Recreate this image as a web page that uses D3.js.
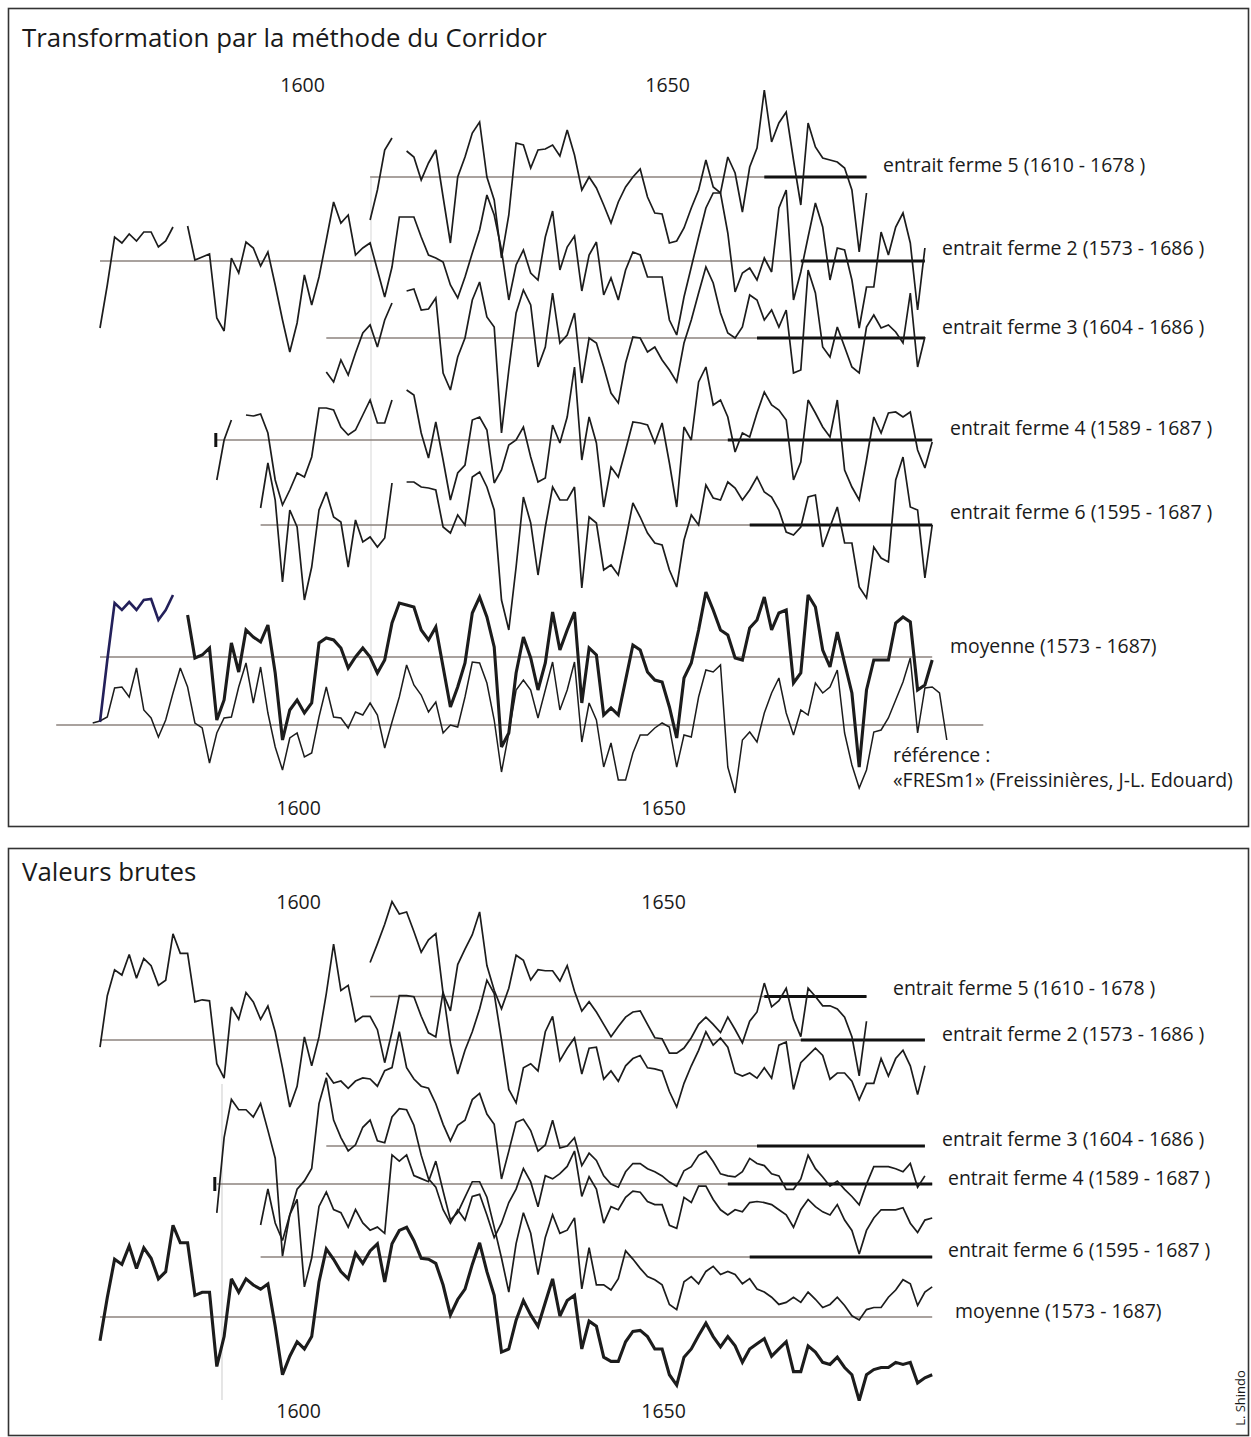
<!DOCTYPE html>
<html><head><meta charset="utf-8">
<script src="https://cdn.jsdelivr.net/npm/d3@7"></script>
<style>
body{margin:0;background:#fff;}
svg{display:block;}
text{font-family:"Open Sans",sans-serif;fill:#1a1a1a;}
</style></head><body>
<svg id="chart" width="1251" height="1437"></svg>
<script>
// ---------------- DATA (index deviations from each series' mean line) ----------------
const tickYears = [1600, 1650];

// Panel 1 : Transformation par la méthode du Corridor
const topEf5Start = 1610;
const topEf5 = [-43,-13,27,39,null,26,20,-3,14,27,-20,-66,0,20,44,55,0,-23,-81,-38,34,32,9,27,28,32,21,47,22,-13,0,-11,-28,-46,-25,-10,0,8,-20,-36,-37,-66,-64,-51,-31,-13,17,-10,-16,20,4,-35,10,29,87,35,54,65,17,-28,54,30,19,17,15,9,-13,-75,-16];
const topEf2Start = 1573;
const topEf2 = [-67,-24,24,18,27,20,29,29,14,20,34,null,35,1,4,7,-57,-70,3,-12,19,13,-5,9,-24,-59,-91,-62,-14,-44,-16,21,59,38,46,6,13,18,-9,-36,-6,44,44,44,24,6,3,-1,-24,-37,-16,8,31,66,46,11,-39,-4,11,-12,-19,24,50,-9,14,25,-30,6,19,-34,-17,-39,-9,9,6,-16,-16,-16,-59,-74,-36,-6,24,53,68,68,28,-31,-12,-7,-19,3,-11,53,71,-39,-11,24,58,34,-19,13,11,-19,-67,-26,-26,29,6,34,48,18,-49,13];
const topEf3Start = 1604;
const topEf3 = [-34,-44,-22,-37,-15,5,13,-9,18,35,null,47,49,28,29,40,-35,-52,-19,0,38,56,21,11,-95,-32,25,48,33,-29,-9,45,-5,3,25,-45,0,-5,-29,-55,-65,-25,1,0,-14,-9,-22,-32,-44,-5,18,45,71,55,25,5,0,11,43,38,18,28,11,28,-35,-32,68,45,-9,-19,11,-9,-29,-35,11,23,10,13,6,-5,45,-29,1];
const topEf4Start = 1589;
const topEf4 = [-40,0,20,null,25,24,26,7,-40,-65,-50,-33,-37,-17,32,32,30,13,5,10,25,40,17,17,40,null,50,45,7,-18,18,-20,-60,-33,-25,20,23,10,-43,-30,-5,0,13,-17,-42,-38,15,-3,23,73,-20,23,-3,-67,-27,-37,-10,18,17,15,-3,17,-23,-67,13,0,58,73,35,40,23,-12,7,3,27,48,35,30,20,-40,-22,40,27,13,3,40,-30,-47,-60,-20,23,7,27,28,23,28,-10,-28,-2];
const topEf6Start = 1595;
const topEf6 = [17,62,25,-57,15,-2,-75,-42,15,33,8,3,-42,5,-17,-12,-22,-13,42,null,43,43,38,37,35,-2,-8,10,0,48,53,38,15,-75,-105,-42,28,2,-50,-2,38,25,25,38,-63,8,2,-45,-40,-50,-15,22,8,-8,-18,-20,-45,-62,-15,10,0,40,27,25,43,37,25,35,48,33,28,15,-7,-10,-2,28,30,-22,-2,18,-18,-18,-62,-73,-22,-33,-37,45,68,18,15,-53,0];
const topMoyStart = 1573;
const topMoy = [-65,-3,54,47,55,47,57,58,37,47,62,null,42,-1,2,9,-63,-43,14,-15,27,20,15,32,-16,-83,-53,-43,-56,-46,14,19,17,9,-11,0,9,0,-16,-3,34,54,52,50,27,17,30,-10,-50,-30,-6,44,60,40,10,-90,-76,-16,20,-1,-33,-6,45,7,27,45,-46,9,2,-58,-51,-58,-23,12,7,-15,-23,-25,-50,-81,-21,-6,27,65,47,27,22,-1,-3,29,37,60,27,44,47,-26,-16,62,50,7,-10,25,-6,-36,-110,-33,-3,-3,-3,34,40,35,-33,-28,-3];
const topRefStart = 1572;
const topRef = [2,4,8,37,38,28,57,15,7,-12,5,32,57,38,2,-3,-38,-8,7,8,38,62,22,58,12,-22,-45,-13,-8,-32,-28,8,38,8,7,-3,13,10,22,10,-23,3,28,60,40,30,13,23,-8,0,-2,28,63,62,42,5,-47,-8,35,45,35,7,35,63,15,35,63,-17,22,5,-42,-18,-55,-55,-28,-10,-10,-3,2,-2,-42,-10,-12,28,55,53,60,-42,-68,-15,-7,-17,12,32,47,12,-10,15,10,42,32,38,55,-8,-40,-63,-45,-7,-5,7,25,43,67,-8,37,38,32,-15];

// Panel 2 : Valeurs brutes
const botEf5Start = 1610;
const botEf5 = [33,51,70,92,80,82,63,43,55,61,3,-14,31,46,60,82,30,6,-12,8,40,35,16,26,25,25,15,30,5,-14,-5,-15,-27,-39,-29,-20,-15,-14,-27,-40,-41,-55,-55,-50,-40,-27,-20,-27,-35,-20,-32,-45,-24,-15,13,-10,-4,8,-22,-39,8,0,-9,-9,-12,-20,-39,-77,-24];
const botEf2Start = 1573;
const botEf2 = [-7,43,68,63,83,60,79,72,53,58,103,84,84,37,39,38,-23,-37,32,20,46,37,20,33,8,-27,-65,-45,3,-25,3,45,93,48,53,18,23,23,10,-22,8,43,43,42,23,7,3,47,-3,-33,-10,8,30,58,45,0,-48,-61,-27,-23,-30,8,23,-20,-8,2,-33,-8,-7,-38,-30,-40,-25,-18,-15,-27,-28,-30,-50,-65,-42,-25,-10,8,-5,2,-7,-32,-35,-32,-37,-27,-37,-5,-2,-48,-22,-15,-8,-15,-38,-32,-32,-40,-58,-42,-42,-18,-35,-18,-10,-25,-53,-25];
const botEf3Start = 1604;
const botEf3 = [71,61,63,56,63,66,65,58,73,76,111,76,65,58,56,41,21,5,20,25,45,51,31,21,-32,-5,23,26,15,-5,1,25,-2,0,8,-19,-7,-14,-29,-37,-40,-25,-17,-17,-22,-25,-29,-35,-39,-24,-20,-9,-5,-15,-27,-29,-30,-25,-12,-17,-19,-27,-29,-42,-42,-32,-9,-22,-30,-39,-34,-42,-49,-57,-37,-20,-20,-20,-22,-25,-17,-40,-29];
const botEf4Start = 1589;
const botEf4 = [-28,45,82,72,72,65,78,52,25,-70,-30,-5,3,15,78,103,62,45,32,38,55,62,42,40,65,73,72,57,28,5,-3,-25,-38,-25,-35,-12,-10,-30,-52,-38,-18,-5,15,2,-22,8,5,10,17,32,-12,7,-5,-38,-22,-25,-13,-7,-8,-17,-20,-20,-40,-43,-13,-18,-2,-2,-15,-25,-30,-25,-27,-18,-17,-18,-20,-25,-30,-42,-25,-15,-22,-27,-30,-20,-35,-45,-68,-45,-33,-25,-25,-25,-23,-38,-47,-35,-33];
const botEf6Start = 1595;
const botEf6 = [31,66,33,16,41,56,-29,-1,49,63,46,43,29,46,33,26,29,23,99,93,99,79,76,73,93,64,36,43,58,73,73,58,29,-1,-34,13,43,23,-17,19,41,23,26,38,-31,9,-27,-27,-32,-21,6,-2,-11,-19,-22,-27,-46,-51,-24,-19,-26,-14,-9,-17,-14,-17,-26,-21,-31,-34,-39,-46,-44,-39,-44,-34,-41,-49,-46,-39,-47,-57,-61,-51,-49,-49,-39,-32,-22,-26,-47,-34,-29];
const botMoyStart = 1573;
const botMoy = [-23,19,56,51,69,47,67,57,37,44,89,72,72,21,24,24,-48,-19,37,24,37,31,27,32,-9,-56,-38,-24,-31,-19,34,66,56,44,37,62,52,64,71,34,71,84,87,74,57,56,52,31,2,17,27,51,72,44,21,-34,-31,-3,16,2,-9,14,37,1,16,21,-31,-4,-9,-39,-43,-43,-24,-14,-13,-19,-31,-31,-56,-66,-39,-31,-18,-6,-19,-29,-19,-28,-44,-31,-26,-21,-38,-31,-24,-53,-53,-28,-34,-44,-46,-39,-49,-56,-81,-56,-51,-49,-49,-44,-46,-44,-64,-59,-56];

// labels & periods
const seriesNames = ["entrait ferme 5 (1610 - 1678 )","entrait ferme 2 (1573 - 1686 )","entrait ferme 3 (1604 - 1686 )","entrait ferme 4 (1589 - 1687 )","entrait ferme 6 (1595 - 1687 )","moyenne (1573 - 1687)"];
const periods = [[1610,1678],[1573,1686],[1604,1686],[1589,1687],[1595,1687],[1573,1687]];
const sapwood = [[1664,1678],[1669,1686],[1663,1686],[1659,1687],[1662,1687],null];
const refLabel1 = "référence :";
const refLabel2 = "«FRESm1» (Freissinières, J-L. Edouard)";
const refPeriod = [1567,1694];

// ---------------- LAYOUT ----------------
const svg = d3.select("#chart");
const x = d3.scaleLinear().domain([1573, 1687]).range([100, 932.2]);
const devTop = d3.scaleLinear().domain([-100, 100]).range([100, -100]);
const devBot = d3.scaleLinear().domain([-100, 100]).range([103.1, -103.1]);

// frames
svg.append("rect").attr("x",8.5).attr("y",8.5).attr("width",1240).attr("height",818)
  .attr("fill","none").attr("stroke","#333").attr("stroke-width",1.6);
svg.append("rect").attr("x",8.5).attr("y",848.5).attr("width",1240).attr("height",587)
  .attr("fill","none").attr("stroke","#333").attr("stroke-width",1.6);

// faint paste artefacts
svg.append("line").attr("x1",371).attr("x2",371).attr("y1",178).attr("y2",730).attr("stroke","#e0e0e0").attr("stroke-width",1.3);
svg.append("line").attr("x1",222).attr("x2",222).attr("y1",1084).attr("y2",1400).attr("stroke","#d8d8d8").attr("stroke-width",1.3);

function toPts(start, vals){ return vals.map((v,i)=>({yr:start+i, v:v})); }

function baseLine(y, period, thick){
  svg.append("line").attr("x1",x(period[0])).attr("x2",x(period[1])).attr("y1",y).attr("y2",y)
    .attr("stroke","#8c837e").attr("stroke-width",1.4);
  if(thick){
    svg.append("line").attr("x1",x(thick[0])).attr("x2",x(thick[1])).attr("y1",y).attr("y2",y)
      .attr("stroke","#111").attr("stroke-width",3);
  }
}
function series(y, start, vals, w, dev, color){
  const line = d3.line().defined(d=>d.v!==null).x(d=>x(d.yr)).y(d=>dev(d.v));
  const g = svg.append("g").attr("transform",`translate(0,${y})`);
  g.append("path").datum(toPts(start, vals)).attr("d", line)
    .attr("fill","none").attr("stroke",color||"#1c1c1c").attr("stroke-width",w)
    .attr("stroke-linejoin","miter").attr("stroke-miterlimit",3);
  return g;
}

// ----- panel 1
const topBase = [177, 261, 338, 440, 525, 657];
const topData = [[topEf5Start,topEf5],[topEf2Start,topEf2],[topEf3Start,topEf3],[topEf4Start,topEf4],[topEf6Start,topEf6]];
const refBase = 725;
baseLine(refBase, refPeriod, null);
topBase.forEach((b,i)=>baseLine(b, periods[i], sapwood[i]));
series(refBase, topRefStart, topRef, 1.5, devTop);
topData.forEach((d,i)=>series(topBase[i], d[0], d[1], 1.7, devTop));
// moyenne: first segment dark blue
const topMoyFirst = topMoy.slice(0, 11);
const topMoyRest = topMoy.map((v,i)=> i<11 ? null : v);
series(topBase[5], topMoyStart, topMoyRest, 3.1, devTop);
series(topBase[5], topMoyStart, topMoyFirst, 2.6, devTop, "#23205a");
svg.append("line").attr("x1",x(1589)-1).attr("x2",x(1589)-1).attr("y1",433).attr("y2",447).attr("stroke","#111").attr("stroke-width",3);

// ----- panel 2
const botBase = [996.5, 1040, 1146, 1184, 1257, 1317];
const botData = [[botEf5Start,botEf5],[botEf2Start,botEf2],[botEf3Start,botEf3],[botEf4Start,botEf4],[botEf6Start,botEf6]];
botBase.forEach((b,i)=>baseLine(b, periods[i], sapwood[i]));
botData.forEach((d,i)=>series(botBase[i], d[0], d[1], 1.7, devBot));
series(botBase[5], botMoyStart, botMoy, 3.1, devBot);
svg.append("line").attr("x1",x(1589)-2).attr("x2",x(1589)-2).attr("y1",1177).attr("y2",1191).attr("stroke","#111").attr("stroke-width",3);

// ----- axes (year labels)
function yearAxis(y, top, dx){
  const ax = (top ? d3.axisTop(x) : d3.axisBottom(x)).tickValues(tickYears).tickFormat(d3.format("d")).tickSize(0).tickPadding(0);
  const g = svg.append("g").attr("transform",`translate(${dx},${y})`).call(ax);
  g.select(".domain").remove();
  g.selectAll("text").attr("font-family","'Open Sans',sans-serif").attr("font-size",19.5).attr("fill","#1a1a1a")
    .attr("dy", "0.35em").attr("y",0);
}
yearAxis(85, true, 5);
yearAxis(808, false, 1);
yearAxis(902, true, 1);
yearAxis(1411, false, 1);

// ----- texts
function fitText(sel, width){
  const w = sel.node().getComputedTextLength();
  const fs = parseFloat(sel.attr("font-size"));
  sel.attr("font-size", fs*width/w);
}
const t1 = svg.append("text").attr("x",22).attr("y",38).attr("dy","0.35em").attr("font-size",24).text("Transformation par la méthode du Corridor");
fitText(t1, 525);
svg.append("text").attr("x",22).attr("y",872).attr("dy","0.35em").attr("font-size",t1.attr("font-size")).text("Valeurs brutes");

const probe = svg.append("text").attr("font-size",18).text(refLabel2);
fitText(probe, 340);
const lfs = probe.attr("font-size");
probe.remove();

const topLabelPos = [[883,165],[942,248],[942,327],[950,428],[950,512],[950,646]];
const botLabelPos = [[893,988],[942,1034],[942,1139],[948,1178],[948,1250],[955,1311]];
seriesNames.forEach((n,i)=>{
  svg.append("text").attr("x",topLabelPos[i][0]).attr("y",topLabelPos[i][1]).attr("dy","0.35em").attr("font-size",lfs).text(n);
  svg.append("text").attr("x",botLabelPos[i][0]).attr("y",botLabelPos[i][1]).attr("dy","0.35em").attr("font-size",lfs).text(n);
});
svg.append("text").attr("x",893).attr("y",755).attr("dy","0.35em").attr("font-size",lfs).text(refLabel1);
svg.append("text").attr("x",893).attr("y",780).attr("dy","0.35em").attr("font-size",lfs).text(refLabel2);

svg.append("text").attr("transform","translate(1240,1398) rotate(-90)").attr("text-anchor","middle")
  .attr("dy","0.35em").attr("font-size",13).text("L. Shindo");
</script>
</body></html>
